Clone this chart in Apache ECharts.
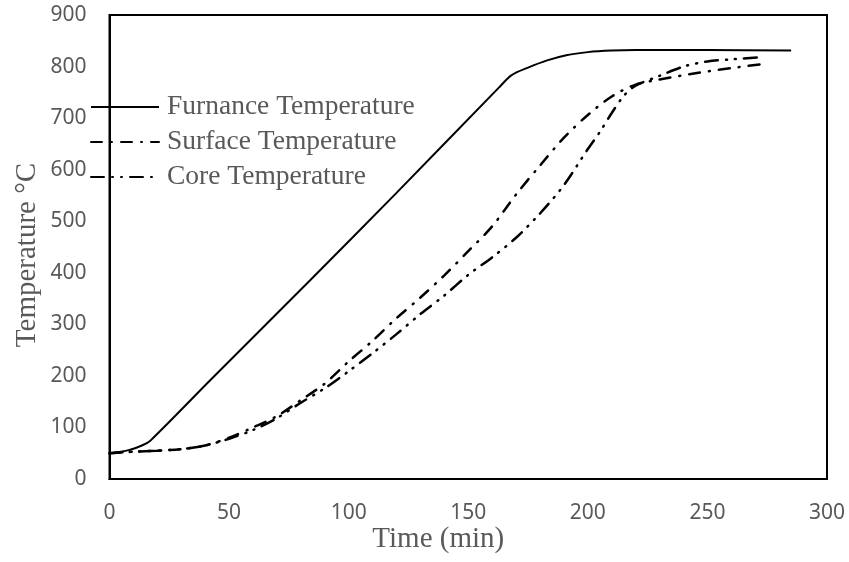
<!DOCTYPE html>
<html>
<head>
<meta charset="utf-8">
<script src="https://cdn.jsdelivr.net/npm/echarts@6/dist/echarts.min.js"></script>
<style>html,body{margin:0;padding:0;background:#fff}#c{width:849px;height:562px}</style>
</head>
<body>
<div id="c"></div>
<script>
const seriesNames = ['Furnance Temperature', 'Surface Temperature', 'Core Temperature'];
const furnaceTime = [0, 8, 14, 17, 42, 84, 120, 163, 168, 175, 183, 191, 200, 210, 220, 250, 285];
const furnaceTemp = [50, 56, 66, 74, 191, 386, 555, 760, 783, 798, 812, 822, 828, 831, 832, 832, 831];
const surfaceTime = [0, 10, 20, 30, 40, 50, 60, 70, 80, 90, 100, 110, 120, 130, 140, 150, 160, 170, 180, 190, 200, 210, 220, 230, 245, 260, 275];
const surfaceTemp = [50, 53, 55, 58, 65, 80, 100, 122, 153, 185, 228, 268, 312, 352, 395, 442, 490, 552, 608, 662, 706, 742, 765, 775, 787, 797, 806];
const coreTime = [0, 10, 20, 30, 40, 50, 60, 70, 80, 90, 100, 110, 120, 130, 140, 150, 160, 170, 180, 190, 200, 205, 210, 215, 220, 230, 240, 250, 260, 272];
const coreTemp = [50, 53, 55, 58, 65, 78, 95, 118, 148, 176, 209, 244, 281, 320, 356, 396, 430, 468, 515, 570, 640, 673, 710, 743, 763, 782, 800, 810, 814, 818];
const xTicks = [0, 300, 50];
const yTicks = [0, 900, 100];

const pairs = (xs, ys) => xs.map((x, i) => [x, ys[i]]);
const chart = echarts.init(document.getElementById('c'), null, {renderer: 'canvas'});
const tickFont = {color: '#595959', fontSize: 21, fontFamily: 'Noto Sans'};
const titleFont = {color: '#595959', fontSize: 29, fontFamily: 'Liberation Serif'};
chart.setOption({
  animation: false,
  backgroundColor: '#fff',
  grid: {left: 109.5, right: 22, top: 15, bottom: 83, show: true, borderColor: '#000', borderWidth: 2,
         containLabel: false, outerBoundsMode: 'none'},
  legend: {
    orient: 'vertical', left: 90, top: 92, padding: 0, itemWidth: 68, itemHeight: 14, itemGap: 5,
    data: seriesNames,
    itemStyle: {opacity: 0, borderWidth: 0},
    textStyle: {color: '#595959', fontSize: 27.5, fontFamily: 'Liberation Serif', lineHeight: 30, padding: [0, 0, 0, 3]}
  },
  xAxis: {
    type: 'value', min: xTicks[0], max: xTicks[1], interval: xTicks[2],
    name: 'Time (min)', nameLocation: 'middle', nameGap: 46, nameMoveOverlap: false,
    nameTextStyle: Object.assign({padding: [0, 60, 0, 0]}, titleFont),
    axisLine: {show: true, lineStyle: {color: '#000', width: 2}},
    axisTick: {show: false}, splitLine: {show: false},
    axisLabel: Object.assign({margin: 24}, tickFont)
  },
  yAxis: {
    type: 'value', min: yTicks[0], max: yTicks[1], interval: yTicks[2],
    name: 'Temperature °C', nameLocation: 'middle', nameGap: 68, nameMoveOverlap: false, nameRotate: 90,
    nameTextStyle: Object.assign({padding: [0, 16, 0, 0]}, titleFont),
    axisLine: {show: true, lineStyle: {color: '#000', width: 2}},
    axisTick: {show: false}, splitLine: {show: false},
    axisLabel: Object.assign({margin: 23}, tickFont)
  },
  series: [
    {name: seriesNames[0], type: 'line', data: pairs(furnaceTime, furnaceTemp), smooth: 0.3, symbol: 'none',
     lineStyle: {color: '#000', width: 2}, itemStyle: {color: '#000'}},
    {name: seriesNames[1], type: 'line', data: pairs(surfaceTime, surfaceTemp), smooth: 0.3, symbol: 'none',
     lineStyle: {color: '#000', width: 2.5, type: [11, 9, 1, 9], cap: 'round'}, itemStyle: {color: '#000'}},
    {name: seriesNames[2], type: 'line', data: pairs(coreTime, coreTemp), smooth: 0.3, symbol: 'none',
     lineStyle: {color: '#000', width: 2.5, type: [13, 8, 1, 8, 1, 8], cap: 'round'}, itemStyle: {color: '#000'}}
  ]
});
</script>
</body>
</html>
